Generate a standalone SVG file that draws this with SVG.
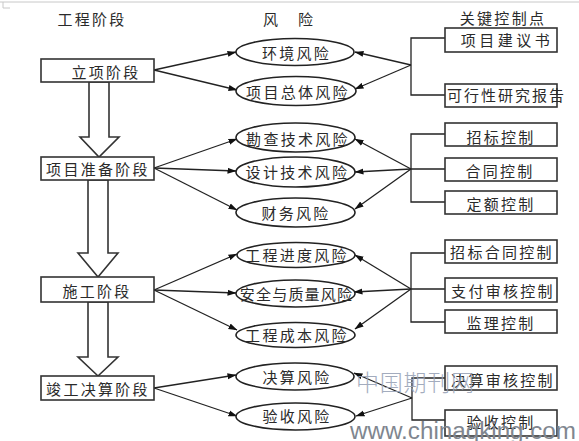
<svg xmlns="http://www.w3.org/2000/svg" width="579" height="441" viewBox="0 0 579 441">
<style>
  .t{font-family:"Noto Sans CJK SC","Noto Sans CJK JP",sans-serif;font-size:15px;fill:#2a2a2a;letter-spacing:2.3px;text-anchor:middle;dominant-baseline:central}
  .box{fill:#fff;stroke:#333;stroke-width:1.6}
  .ell{fill:#fff;stroke:#222;stroke-width:1.6}
  .ln{fill:none;stroke:#222;stroke-width:1.3}
  .bl{fill:#fff;stroke:#333;stroke-width:1.6;stroke-linejoin:miter}
  .wm{font-family:"Noto Sans CJK SC",sans-serif;font-size:23px;fill:#9aa4b8;font-weight:300;opacity:0.9}
  .wm2{font-family:"Liberation Sans",Arial,sans-serif;font-size:23px;fill:#80868f}
</style>
<defs>
  <marker id="ah" markerWidth="9" markerHeight="7" refX="8.5" refY="3.5" orient="auto" markerUnits="userSpaceOnUse">
    <path d="M0,0.5 L9,3.5 L0,6.5 Z" fill="#111"/>
  </marker>
</defs>
<rect width="579" height="441" fill="#fff"/>
<line x1="0" y1="2" x2="579" y2="2" stroke="#c8c8c8" stroke-width="1"/>
<path d="M3,2 V8 M3,8 H10" stroke="#c8c8c8" stroke-width="1" fill="none"/>

<!-- headers -->
<text class="t" x="92" y="18">工程阶段</text>
<text class="t" x="288" y="18" style="letter-spacing:0">风<tspan dx="20">险</tspan></text>
<text class="t" x="503" y="17">关键控制点</text>

<!-- connectors -->
<g id="connectors">
  <polygon class="bl" points="89,82 109,82 109,137 119,137 99,157 80,137 89,137"/>
  <polygon class="bl" points="88,180 108,180 108,253 118,253 98,277 78,253 88,253"/>
  <polygon class="bl" points="88,302 108,302 108,357 118,357 98,376 78,357 88,357"/>
  <g class="ln" marker-end="url(#ah)">
    <line x1="154" y1="70" x2="236" y2="52"/>
    <line x1="154" y1="70" x2="237" y2="90"/>
    <line x1="154" y1="168" x2="237" y2="139"/>
    <line x1="154" y1="168" x2="236" y2="171"/>
    <line x1="154" y1="168" x2="237" y2="210"/>
    <line x1="154" y1="290" x2="237" y2="254"/>
    <line x1="154" y1="290" x2="236" y2="293"/>
    <line x1="154" y1="290" x2="237" y2="330"/>
    <line x1="154" y1="388" x2="236" y2="375"/>
    <line x1="154" y1="388" x2="237" y2="416"/>
  </g>
  <g class="ln" marker-end="url(#ah)">
    <line x1="411" y1="65" x2="355" y2="52"/>
    <line x1="411" y1="65" x2="355" y2="89"/>
    <line x1="411" y1="169" x2="355" y2="139"/>
    <line x1="411" y1="169" x2="355" y2="172"/>
    <line x1="411" y1="169" x2="355" y2="209"/>
    <line x1="411" y1="289" x2="355" y2="255"/>
    <line x1="411" y1="289" x2="354" y2="292"/>
    <line x1="411" y1="289" x2="355" y2="329"/>
    <line x1="412" y1="398" x2="354" y2="373"/>
    <line x1="412" y1="398" x2="356" y2="416"/>
  </g>
  <path class="ln" d="M445,38 H411 V95 H445"/>
  <path class="ln" d="M445,134 H411 V202 H445 M411,169 H445"/>
  <path class="ln" d="M445,253 H411 V322 H445 M411,289 H445"/>
  <path class="ln" d="M445,378 H412 V420 H445"/>
</g>

<!-- stage nodes -->
<g id="stage1"><rect class="box" x="41" y="59" width="113" height="23"/><text class="t" x="106" y="71">立项阶段</text></g>
<g id="stage2"><rect class="box" x="41" y="157" width="113" height="23"/><text class="t" x="98" y="168">项目准备阶段</text></g>
<g id="stage3"><rect class="box" x="41" y="277" width="113" height="25"/><text class="t" x="97" y="290">施工阶段</text></g>
<g id="stage4"><rect class="box" x="41" y="376" width="113" height="24"/><text class="t" x="98" y="388">竣工决算阶段</text></g>

<!-- risk nodes -->
<g id="risk1"><ellipse class="ell" cx="295" cy="52" rx="59" ry="13.5"/><text class="t" x="296.5" y="52">环境风险</text></g>
<g id="risk2"><ellipse class="ell" cx="296" cy="91" rx="60" ry="14.5"/><text class="t" x="298" y="91">项目总体风险</text></g>
<g id="risk3"><ellipse class="ell" cx="295.5" cy="137.5" rx="59.5" ry="14.5"/><text class="t" x="298" y="138">勘查技术风险</text></g>
<g id="risk4"><ellipse class="ell" cx="295.5" cy="172" rx="59.5" ry="15"/><text class="t" x="297.5" y="171.5">设计技术风险</text></g>
<g id="risk5"><ellipse class="ell" cx="295.5" cy="212.5" rx="59.5" ry="14.5"/><text class="t" x="296" y="212">财务风险</text></g>
<g id="risk6"><ellipse class="ell" cx="296" cy="255" rx="59" ry="12.5"/><text class="t" x="297" y="254.5">工程进度风险</text></g>
<g id="risk7"><ellipse class="ell" cx="295.5" cy="293.5" rx="59.5" ry="13.5"/><text class="t" x="296.5" y="293.5" style="letter-spacing:1.2px">安全与质量风险</text></g>
<g id="risk8"><ellipse class="ell" cx="295.5" cy="335" rx="59.5" ry="12.5"/><text class="t" x="297" y="334">工程成本风险</text></g>
<g id="risk9"><ellipse class="ell" cx="295" cy="376.5" rx="59" ry="13.5"/><text class="t" x="297" y="376">决算风险</text></g>
<g id="risk10"><ellipse class="ell" cx="295.5" cy="416.5" rx="59.5" ry="13.5"/><text class="t" x="297" y="415.5">验收风险</text></g>

<!-- control nodes -->
<g id="ctrl1"><rect class="box" x="445" y="28" width="112" height="24"/><text class="t" x="507" y="39.5" style="letter-spacing:3.5px">项目建议书</text></g>
<g id="ctrl2"><rect class="box" x="445" y="84" width="112" height="23"/><text class="t" x="506.5" y="94.5" style="letter-spacing:2px">可行性研究报告</text></g>
<g id="ctrl3"><rect class="box" x="445" y="123" width="112" height="23"/><text class="t" x="501" y="136">招标控制</text></g>
<g id="ctrl4"><rect class="box" x="445" y="158" width="112" height="23"/><text class="t" x="500" y="170">合同控制</text></g>
<g id="ctrl5"><rect class="box" x="445" y="191" width="112" height="23"/><text class="t" x="501" y="203">定额控制</text></g>
<g id="ctrl6"><rect class="box" x="445" y="240" width="112" height="23"/><text class="t" x="502" y="251.5">招标合同控制</text></g>
<g id="ctrl7"><rect class="box" x="445" y="278" width="112" height="24"/><text class="t" x="503" y="290.5">支付审核控制</text></g>
<g id="ctrl8"><rect class="box" x="445" y="310" width="112" height="23"/><text class="t" x="501" y="322">监理控制</text></g>
<g id="ctrl9"><rect class="box" x="445" y="366" width="112" height="24"/><text class="t" x="503" y="379">决算审核控制</text></g>
<g id="ctrl10"><rect class="box" x="445" y="410" width="112" height="26"/><text class="t" x="501" y="421.5">验收控制</text></g>

<!-- watermark -->
<text class="wm" x="356" y="391" textLength="118" lengthAdjust="spacing">中国期刊网</text>
<text class="wm2" x="350" y="439" textLength="226" lengthAdjust="spacingAndGlyphs">www.chinaqking.com</text>
</svg>
